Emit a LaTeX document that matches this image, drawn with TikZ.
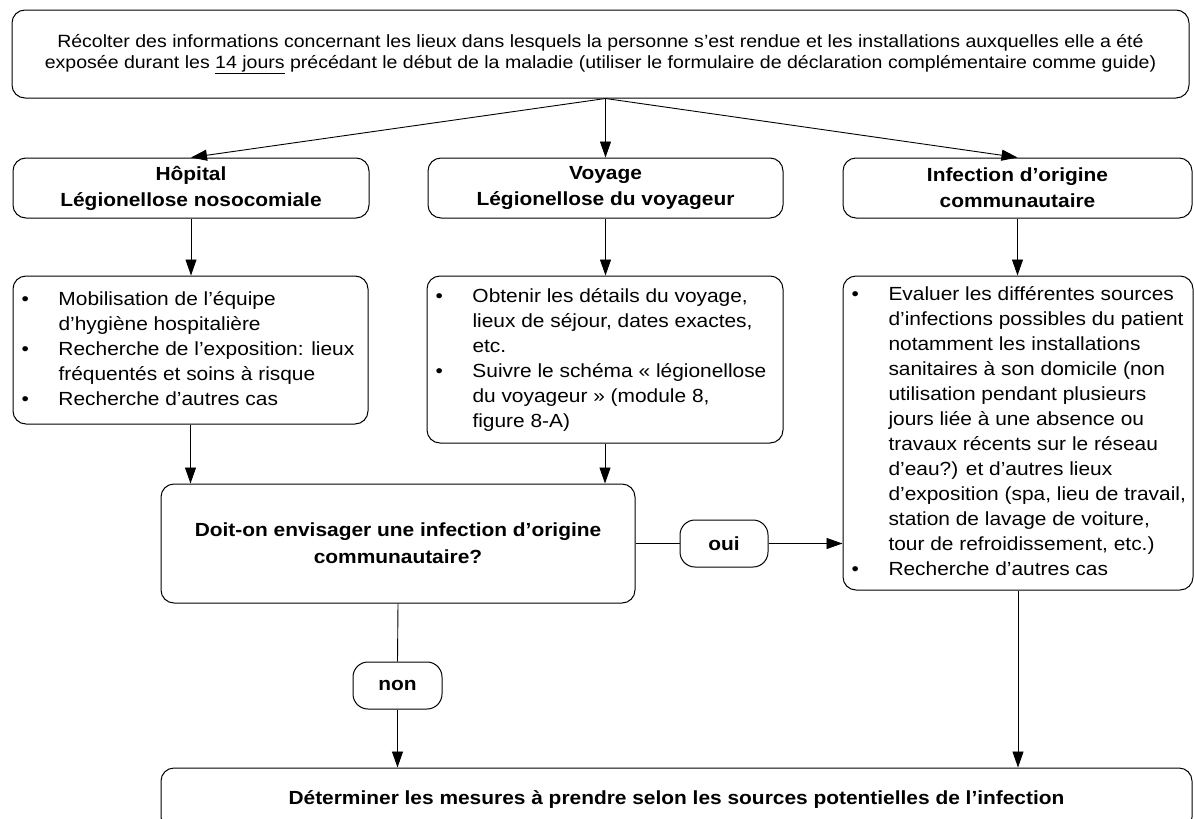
\documentclass[tikz,border=0pt]{standalone}
\usepackage{fontspec}
\setmainfont{Liberation Sans}[FakeStretch=1.1]
\usetikzlibrary{arrows.meta}

\newcommand{\bul}{\textbullet}
\newenvironment{bullist}{\begin{tabular}{@{\hspace{8.5pt}}p{37pt}@{}l@{}}}{\end{tabular}}

\tikzset{
  box/.style={draw, line width=1pt, rounded corners=13pt, inner sep=0pt, align=center},
  headbox/.style={box, minimum height=60pt, font=\bfseries\fontsize{19}{26}\selectfont},
  listbox/.style={box, font=\fontsize{19}{25}\selectfont},
  tagbox/.style={box, rounded corners=15pt, minimum height=47pt, font=\bfseries\fontsize{19}{23}\selectfont},
  arr/.style={line width=0.9pt, -{Triangle[length=16pt,width=11pt]}},
  line/.style={line width=0.9pt}
}

\begin{document}
\begin{tikzpicture}[x=1pt, y=-1pt]
  \useasboundingbox (0,0) rectangle (1194,819);
  \clip (0,0) rectangle (1194,819);

  \node [box, minimum width=1177pt, minimum height=88pt, font=\fontsize{17.75}{21}\selectfont] (top) at (600.5,54)
    {Récolter des informations concernant les lieux dans lesquels la personne s’est rendue et les installations auxquelles elle a été\\
     exposée durant les \underline{14 jours} précédant le début de la maladie (utiliser le formulaire de déclaration complémentaire comme guide)};

  \node [headbox, minimum width=356pt] (hosp) at (191,188) {Hôpital\\Légionellose nosocomiale};
  \node [headbox, minimum width=355pt] (voy) at (605.5,188) {Voyage\\Légionellose du voyageur};
  \node [headbox, minimum width=349pt] (inf) at (1017.5,188) {Infection d’origine\\communautaire};

  \node [listbox, minimum width=355pt, minimum height=148pt] (hospl) at (190.5,350)
    {\makebox[355pt][l]{\begin{bullist}
      \bul & Mobilisation de l’équipe\\
           & d’hygiène hospitalière\\
      \bul & Recherche de l’exposition: lieux\\
           & fréquentés et soins à risque\\
      \bul & Recherche d’autres cas
    \end{bullist}}};
  \node [listbox, minimum width=356pt, minimum height=167pt] (voyl) at (605,359.5)
    {\makebox[356pt][l]{\begin{bullist}
      \bul & Obtenir les détails du voyage,\\
           & lieux de séjour, dates exactes,\\
           & etc.\\
      \bul & Suivre le schéma « légionellose\\
           & du voyageur » (module 8,\\
           & figure 8-A)
    \end{bullist}}};
  \node [listbox, minimum width=350pt, minimum height=314pt] (infl) at (1018,433)
    {\makebox[350pt][l]{\begin{bullist}
      \bul & Evaluer les différentes sources\\
           & d’infections possibles du patient\\
           & notamment les installations\\
           & sanitaires à son domicile (non\\
           & utilisation pendant plusieurs\\
           & jours liée à une absence ou\\
           & travaux récents sur le réseau\\
           & d’eau?) et d’autres lieux\\
           & d’exposition (spa, lieu de travail,\\
           & station de lavage de voiture,\\
           & tour de refroidissement, etc.)\\
      \bul & Recherche d’autres cas
    \end{bullist}}};

  \node [box, minimum width=474pt, minimum height=119pt, font=\bfseries\fontsize{19}{27}\selectfont] (dec) at (398,543.5)
    {Doit-on envisager une infection d’origine\\communautaire?};
  \node [tagbox, minimum width=88pt] (oui) at (724,543.5) {oui};
  \node [tagbox, minimum width=89pt] (non) at (397.5,685.5) {non};
  \node [box, minimum width=1031pt, minimum height=62pt, font=\bfseries\fontsize{19}{23}\selectfont] (fin) at (676.5,799)
    {Déterminer les mesures à prendre selon les sources potentielles de l’infection};

  \draw [arr] (voy.north |- top.south) -- (hosp.north);
  \draw [arr] (voy.north |- top.south) -- (voy.north);
  \draw [arr] (voy.north |- top.south) -- (inf.north);
  \draw [arr] (hosp.south) -- (hosp.south |- hospl.north);
  \draw [arr] (voy.south) -- (voy.south |- voyl.north);
  \draw [arr] (inf.south) -- (inf.south |- infl.north);
  \draw [arr] (hospl.south) -- (hospl.south |- dec.north);
  \draw [arr] (voyl.south) -- (voyl.south |- dec.north);
  \draw [line] (dec.east) -- (oui.west);
  \draw [arr] (oui.east) -- (oui.east -| infl.west);
  \draw [line] (dec.south) -- (non.north);
  \draw [arr] (non.south) -- (non.south |- fin.north);
  \draw [arr] (infl.south) -- (infl.south |- fin.north);
\end{tikzpicture}
\end{document}
